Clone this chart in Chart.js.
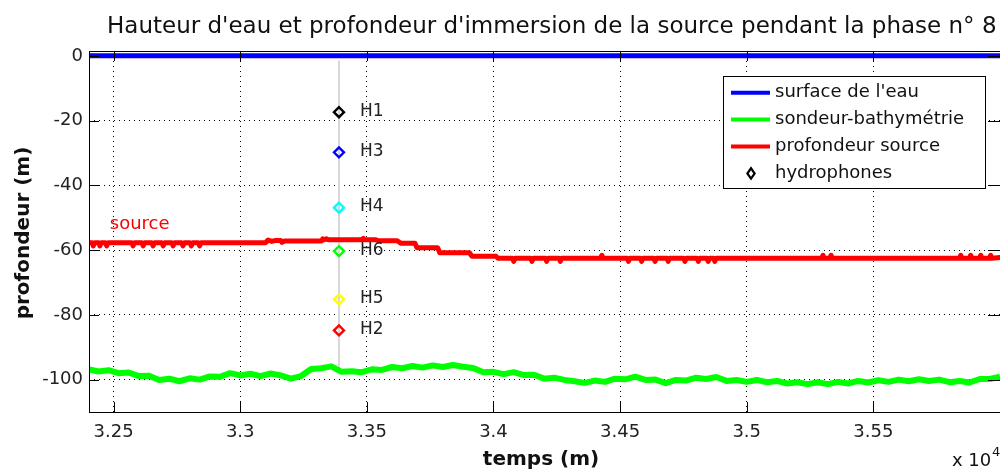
<!DOCTYPE html>
<html>
<head>
<meta charset="utf-8">
<script src="https://cdn.jsdelivr.net/npm/chart.js@4.4.0/dist/chart.umd.min.js"></script>
<style>
html, body { margin: 0; padding: 0; background: #fff; overflow: hidden; }
#wrap { width: 1000px; height: 470px; }
</style>
</head>
<body>
<div id="wrap"><canvas id="depthChart" width="1000" height="470"></canvas></div>
<script>
const xTicks = [32500, 33000, 33500, 34000, 34500, 35000, 35500];
const xTickLabels = ['3.25', '3.3', '3.35', '3.4', '3.45', '3.5', '3.55'];
const yTicks = [0, -20, -40, -60, -80, -100];
const yTickLabels = ['0', '-20', '-40', '-60', '-80', '-100'];

// surface de l'eau
const surfT = [32400, 36000];
const surfZ = [0, 0];

// sondeur-bathymétrie
const bathyT = [32400, 32440, 32480, 32520, 32560, 32600, 32640, 32680, 32720, 32760,
    32800, 32840, 32880, 32920, 32960, 33000, 33040, 33080, 33120, 33160,
    33200, 33240, 33280, 33320, 33360, 33400, 33440, 33480, 33520, 33560,
    33600, 33640, 33680, 33720, 33760, 33800, 33840, 33880, 33920, 33960,
    34000, 34040, 34080, 34120, 34160, 34200, 34240, 34280, 34320, 34360,
    34400, 34440, 34480, 34520, 34560, 34600, 34640, 34680, 34720, 34760,
    34800, 34840, 34880, 34920, 34960, 35000, 35040, 35080, 35120, 35160,
    35200, 35240, 35280, 35320, 35360, 35400, 35440, 35480, 35520, 35560,
    35600, 35640, 35680, 35720, 35760, 35800, 35840, 35880, 35920, 35960, 36000];
const bathyZ = [-96.8, -97.5, -97.1, -98.0, -97.8, -98.9, -98.8, -100.1, -99.7, -100.5,
    -99.6, -100.0, -99.0, -99.1, -98.0, -98.7, -98.2, -98.9, -98.1, -98.7,
    -99.7, -98.9, -96.7, -96.5, -95.9, -97.6, -97.4, -97.7, -96.8, -97.0,
    -96.1, -96.5, -95.8, -96.3, -95.6, -96.1, -95.5, -96.0, -96.4, -97.7,
    -97.6, -98.3, -97.7, -98.6, -98.5, -99.7, -99.4, -100.1, -100.5, -101.0,
    -100.3, -100.7, -99.7, -99.9, -99.1, -100.1, -100.0, -101.1, -100.1, -100.3,
    -99.4, -99.8, -99.2, -100.4, -100.1, -100.7, -100.1, -100.8, -100.4, -101.2,
    -100.8, -101.4, -100.8, -101.4, -100.7, -101.2, -100.4, -100.9, -100.2, -100.7,
    -100.0, -100.5, -99.9, -100.4, -100.0, -100.8, -100.4, -100.9, -99.8, -99.8, -99.1];

// profondeur source
const srcT = [32403, 32416, 32420, 32425, 32442, 32446, 32451, 32468, 32473, 32478,
    32572, 32577, 32582, 32612, 32617, 32622, 32651, 32656, 32661, 32691, 32696, 32701,
    32730, 32735, 32740, 32769, 32774, 32779, 32802, 32807, 32812, 32835, 32840, 32845,
    33100, 33110, 33125, 33140, 33160, 33165, 33175, 33320, 33326, 33332, 33340, 33348,
    33480, 33486, 33492, 33536, 33545, 33620, 33635, 33690, 33698, 33780, 33788, 33905,
    33915, 34010, 34018, 34075, 34080, 34085, 34147, 34152, 34157, 34205, 34210, 34215,
    34259, 34264, 34269, 34423, 34428, 34433, 34528, 34533, 34538, 34580, 34585, 34590,
    34633, 34638, 34643, 34685, 34690, 34695, 34751, 34756, 34761, 34804, 34809, 34814,
    34843, 34848, 34853, 34869, 34874, 34879, 35296, 35301, 35306, 35328, 35333, 35338,
    35840, 35845, 35850, 35879, 35884, 35889, 35919, 35924, 35929, 35958, 35963, 35968, 36000];
const srcZ = [-57.7, -57.7, -58.7, -57.7, -57.7, -58.7, -57.7, -57.7, -58.7, -57.7,
    -57.7, -58.7, -57.7, -57.7, -58.7, -57.7, -57.7, -58.7, -57.7, -57.7, -58.7, -57.7,
    -57.7, -58.7, -57.7, -57.7, -58.7, -57.7, -57.7, -58.7, -57.7, -57.7, -58.7, -57.7,
    -57.7, -56.9, -57.3, -57.0, -57.0, -57.6, -57.2, -57.2, -56.5, -56.8, -56.5, -56.8,
    -56.8, -56.4, -56.8, -56.8, -57.1, -57.1, -57.9, -57.9, -59.3, -59.3, -60.8, -60.8,
    -61.9, -61.9, -62.5, -62.5, -63.5, -62.5, -62.5, -63.5, -62.5, -62.5, -63.5, -62.5,
    -62.5, -63.5, -62.5, -62.5, -61.6, -62.5, -62.5, -63.5, -62.5, -62.5, -63.5, -62.5,
    -62.5, -63.5, -62.5, -62.5, -63.5, -62.5, -62.5, -63.5, -62.5, -62.5, -63.5, -62.5,
    -62.5, -63.5, -62.5, -62.5, -63.5, -62.5, -62.5, -61.6, -62.5, -62.5, -61.6, -62.5,
    -62.5, -61.6, -62.5, -62.5, -61.6, -62.5, -62.5, -61.6, -62.5, -62.5, -61.6, -62.5, -62.3];

// hydrophones
const hydroNames = ['H1', 'H3', 'H4', 'H6', 'H5', 'H2'];
const hydroT = [33390, 33390, 33390, 33390, 33390, 33390];
const hydroZ = [-17.4, -29.8, -46.9, -60.3, -75.2, -84.8];
const hydroColors = ['#000000', '#0000ff', '#00ffff', '#00ff00', '#ffff00', '#ff0000'];

// ligne verticale des hydrophones
const mooringT = [33390, 33390];
const mooringZ = [-1.4, -97.1];

const toPoints = (ts, zs) => ts.map((t, i) => ({ x: t, y: zs[i] }));

const FONT = 'DejaVu Sans';

const matlabLook = {
    id: 'matlabLook',
    afterDraw(chart) {
        const c = chart.ctx;
        const a = chart.chartArea;
        const xs = chart.scales.x;
        const ys = chart.scales.y;
        c.save();

        // box + inner ticks
        c.strokeStyle = '#000';
        c.lineWidth = 1;
        c.strokeRect(a.left + 0.5, a.top + 0.5, a.right - a.left + 1, a.bottom - a.top);
        c.beginPath();
        for (let v of xTicks) {
            const px = Math.round(xs.getPixelForValue(v)) + 0.5;
            c.moveTo(px, a.bottom); c.lineTo(px, a.bottom - 10);
            c.moveTo(px, a.top); c.lineTo(px, a.top + 10);
        }
        for (let v of yTicks) {
            const py = Math.round(ys.getPixelForValue(v)) + 0.5;
            c.moveTo(a.left, py); c.lineTo(a.left + 10, py);
            c.moveTo(a.right, py); c.lineTo(a.right - 12, py);
        }
        c.stroke();

        // hydrophone names
        const hMeta = chart.getDatasetMeta(0);
        c.fillStyle = '#222';
        c.font = '17px "' + FONT + '"';
        c.textAlign = 'left';
        c.textBaseline = 'middle';
        hMeta.data.forEach((pt, i) => {
            c.fillText(hydroNames[i], pt.x + 21, pt.y - 1);
        });

        // source label
        c.fillStyle = '#ff0000';
        c.font = '18px "' + FONT + '"';
        c.fillText('source', xs.getPixelForValue(32485), ys.getPixelForValue(-51.9));

        // legend
        const lx = 723.5, ly = 76.5, lw = 262, lh = 112;
        c.fillStyle = '#fff';
        c.fillRect(lx, ly, lw, lh);
        c.strokeStyle = '#000';
        c.strokeRect(lx, ly, lw, lh);
        const rows = chart.data.datasets.filter(d => d.label).sort((p, q) => p.legendRow - q.legendRow);
        rows.forEach((d, i) => {
            const ry = 92.7 + i * 26.9;
            if (d.showLine === false) {
                c.save();
                c.translate(751, ry);
                c.scale(0.8, 1.15);
                c.rotate(Math.PI / 4);
                c.strokeStyle = '#000';
                c.lineWidth = 2.4;
                c.strokeRect(-3.2, -3.2, 6.4, 6.4);
                c.restore();
            } else {
                c.strokeStyle = d.borderColor;
                c.lineWidth = 4;
                c.beginPath();
                c.moveTo(731, ry); c.lineTo(770, ry);
                c.stroke();
            }
            c.fillStyle = '#111';
            c.font = '18px "' + FONT + '"';
            c.fillText(d.label, 775, ry);
        });

        // titles
        c.fillStyle = '#111';
        c.textBaseline = 'alphabetic';
        c.font = '23px "' + FONT + '"';
        c.fillText('Hauteur d\'eau et profondeur d\'immersion de la source pendant la phase n° 8', 107, 33);

        c.font = 'bold 20px "' + FONT + '"';
        c.textAlign = 'center';
        c.fillText('temps (m)', 541, 465);

        c.save();
        c.translate(29, 233);
        c.rotate(-Math.PI / 2);
        c.fillText('profondeur (m)', 0, 0);
        c.restore();

        c.textAlign = 'left';
        c.font = '18px "' + FONT + '"';
        c.fillText('x 10', 952, 466);
        c.font = '13px "' + FONT + '"';
        c.fillText('4', 992, 456);

        c.restore();
    }
};

const ctx = document.getElementById('depthChart').getContext('2d');
new Chart(ctx, {
    type: 'line',
    data: {
        datasets: [
            {
                label: 'hydrophones',
                legendRow: 3,
                data: toPoints(hydroT, hydroZ),
                showLine: false,
                pointStyle: 'rectRot',
                pointRadius: 5,
                pointBorderWidth: 2.4,
                pointBorderColor: hydroColors,
                pointBackgroundColor: 'rgba(255,255,255,0)',
                borderColor: '#000',
                order: 0
            },
            {
                label: 'profondeur source',
                legendRow: 2,
                data: toPoints(srcT, srcZ),
                borderColor: '#ff0000',
                borderWidth: 5,
                borderJoinStyle: 'round',
                borderCapStyle: 'round',
                pointRadius: 0,
                order: 1
            },
            {
                label: 'sondeur-bathymétrie',
                legendRow: 1,
                data: toPoints(bathyT, bathyZ),
                borderColor: '#00ff00',
                borderWidth: 6,
                borderJoinStyle: 'round',
                pointRadius: 0,
                order: 2
            },
            {
                label: 'surface de l\'eau',
                legendRow: 0,
                data: toPoints(surfT, surfZ),
                borderColor: '#0000ff',
                borderWidth: 5,
                pointRadius: 0,
                order: 3
            },
            {
                label: '',
                data: toPoints(mooringT, mooringZ),
                borderColor: '#d8d8d8',
                borderWidth: 2,
                pointRadius: 0,
                order: 4
            }
        ]
    },
    options: {
        responsive: false,
        animation: false,
        layout: { autoPadding: false, padding: { top: 51, right: 0, left: 0, bottom: 0 } },
        plugins: {
            legend: { display: false },
            title: { display: false },
            tooltip: { enabled: false }
        },
        elements: { line: { tension: 0 } },
        scales: {
            x: {
                type: 'linear',
                min: 32403,
                max: 36000,
                afterBuildTicks: (scale) => { scale.ticks = xTicks.map(v => ({ value: v })); },
                afterFit: (scale) => { scale.height = 58; },
                grid: { color: '#000', lineWidth: 1, drawTicks: false },
                border: { display: false, dash: [1, 4] },
                ticks: {
                    autoSkip: false,
                    maxRotation: 0,
                    padding: 10,
                    color: '#222',
                    font: { family: FONT, size: 18 },
                    callback: (value, index) => xTickLabels[index]
                }
            },
            y: {
                type: 'linear',
                min: -110,
                max: 1.5,
                afterBuildTicks: (scale) => { scale.ticks = yTicks.map(v => ({ value: v })); },
                afterFit: (scale) => { scale.width = 89; },
                grid: { color: '#000', lineWidth: 1, drawTicks: false },
                border: { display: false, dash: [1, 4] },
                ticks: {
                    padding: 6,
                    color: '#222',
                    font: { family: FONT, size: 18 },
                    callback: (value, index) => yTickLabels[index]
                }
            }
        }
    },
    plugins: [matlabLook]
});
</script>
</body>
</html>
